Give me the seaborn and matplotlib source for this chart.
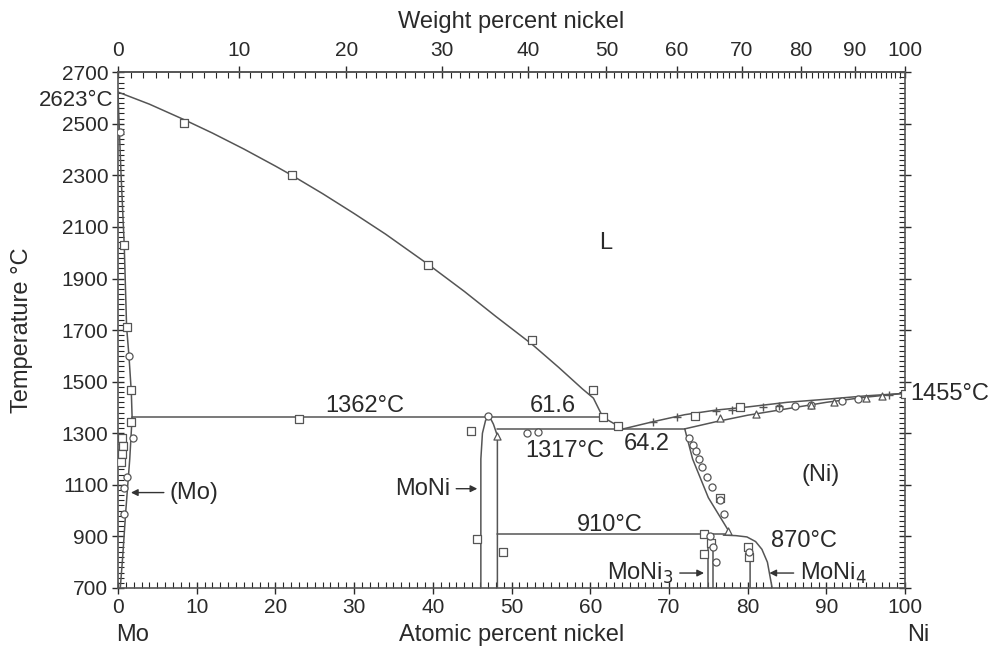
import numpy as np
import pandas as pd
import matplotlib
matplotlib.use("Agg")
import matplotlib.pyplot as plt
import seaborn as sns
from matplotlib.ticker import MultipleLocator, FixedLocator

# phase boundaries (atomic % Ni, temperature C)
liquidus_mo = ([0, 4, 8.4, 12, 16, 20, 22.1, 26, 30, 34, 39.4, 44, 48, 52.6, 56, 59, 60.4,
                61.6, 64.2],
               [2623, 2576, 2516, 2464, 2402, 2336, 2300, 2229, 2152, 2072, 1955, 1850,
                1753, 1645, 1555, 1472, 1436, 1362, 1317])
solidus_mo = ([0, 0.4, 0.8, 1.1, 1.4, 1.7, 1.8], [2623, 2300, 2030, 1712, 1600, 1460, 1362])
solvus_mo = ([1.8, 1.5, 1.0, 0.6, 0.3], [1362, 1200, 1000, 820, 700])
peritectic = ([1.8, 61.6], [1362, 1362])
moni_left = ([46.1, 46.1, 46.3, 46.7, 47.2], [700, 1200, 1300, 1350, 1365])
moni_right = ([47.2, 47.7, 48.2, 48.2], [1365, 1335, 1290, 700])
eutectic = ([48.2, 72.0], [1317, 1317])
liquidus_ni = ([64.2, 68, 72, 76, 80, 85, 90, 95, 100],
               [1317, 1345, 1372, 1390, 1402, 1420, 1432, 1445, 1455])
solidus_ni = ([72, 76, 80, 85, 90, 95, 100], [1317, 1345, 1370, 1395, 1420, 1440, 1455])
solvus_ni = ([72, 73, 75, 77.8], [1317, 1200, 1050, 910])
peritectoid = ([48.2, 77.8], [910, 910])
moni3_left = ([75.0, 75.0], [700, 910])
moni3_right = ([75.6, 75.6], [700, 910])
ni_boundary = ([76.9, 78.5, 79.9, 81.0, 81.8, 82.5, 83.1], [905, 903, 898, 880, 850, 800, 700])
moni4_left = ([80.3, 80.3, 80.6], [700, 850, 872])

curves = [liquidus_mo, solidus_mo, solvus_mo, peritectic, moni_left, moni_right,
          eutectic, liquidus_ni, solidus_ni, solvus_ni, peritectoid, moni3_left,
          moni3_right, ni_boundary, moni4_left]

# experimental points
sq_x = [8.4, 22.1, 39.4, 52.6, 60.4, 61.6, 63.5, 73.3, 79.0, 0.8, 1.1, 1.65, 1.65, 23.0,
        0.5, 0.6, 0.5, 0.4, 44.9, 45.6, 48.9, 74.5, 74.4, 75.3, 76.5, 80.0, 80.2, 100]
sq_y = [2502, 2300, 1952, 1661, 1467, 1362, 1330, 1365, 1400, 2030, 1712, 1467, 1343, 1355,
        1280, 1250, 1220, 1190, 1308, 890, 840, 910, 830, 875, 1050, 860, 820, 1452]
ci_x = [1.9, 1.1, 0.8, 0.8, 0.3, 1.4, 47.0, 52.0, 53.3, 72.5, 73.0, 73.4, 73.8, 74.2,
        74.8, 75.5, 76.5, 77.0, 75.2, 75.6, 76.0, 80.1, 84.0, 86.0, 88.0, 92.0, 94.0]
ci_y = [1282, 1130, 1088, 988, 2470, 1600, 1365, 1300, 1305, 1280, 1255, 1230, 1200, 1170,
        1130, 1090, 1040, 985, 900, 860, 800, 840, 1398, 1405, 1410, 1425, 1432]
tr_x = [48.2, 77.5, 76.5, 81.0, 88.0, 91.0, 95.0, 97.0]
tr_y = [1290, 920, 1360, 1375, 1410, 1420, 1437, 1443]
pl_x = [68.0, 71.0, 76.0, 78.0, 82.0, 84.0, 98.0]
pl_y = [1345, 1362, 1385, 1390, 1400, 1405, 1450]

wt_ticks = [0, 10, 20, 30, 40, 50, 60, 70, 80, 90, 100]
t_ticks = [700, 900, 1100, 1300, 1500, 1700, 1900, 2100, 2300, 2500, 2700]


def at_to_wt(x):
    x = np.asarray(x, dtype=float)
    return 100 * x * 58.69 / (x * 58.69 + (100 - x) * 95.95)


def wt_to_at(w):
    w = np.asarray(w, dtype=float)
    a = w / 58.69
    return 100 * a / (a + (100 - w) / 95.95)


sns.set_theme(style="ticks")
plt.rcParams['font.family'] = ['Liberation Sans', 'DejaVu Sans']
ink = "#2a2a2a"
fs = 17
tfs = 15

fig = plt.figure(figsize=(10.08, 6.48), dpi=100)
ax = fig.add_axes([0.117, 0.0926, 0.781, 0.796])

for cx, cy in curves:
    df = pd.DataFrame({"at": cx, "T": cy})
    sns.lineplot(data=df, x="at", y="T", sort=False, estimator=None, color="#555555",
                 lw=1.1, ax=ax)

mk = dict(facecolor="white", edgecolor="#555555", linewidth=0.9, ax=ax, zorder=3)
sns.scatterplot(x=sq_x, y=sq_y, marker="s", s=28, **mk)
sns.scatterplot(x=ci_x, y=ci_y, marker="o", s=26, **mk)
sns.scatterplot(x=tr_x, y=tr_y, marker="^", s=26, **mk)
sns.scatterplot(x=pl_x, y=pl_y, marker="+", s=30, color="#555555", linewidth=1, ax=ax,
                zorder=3)

ax.set_xlim(0, 100)
ax.set_ylim(700, 2700)
ax.set_yticks(t_ticks)
ax.set_xticks(range(0, 101, 10))
ax.xaxis.set_minor_locator(MultipleLocator(1))
ax.yaxis.set_minor_locator(MultipleLocator(20))
ax.tick_params(axis="both", which="major", direction="inout", length=8, width=1,
               labelsize=tfs, colors=ink, right=True, top=False, pad=3)
ax.tick_params(axis="both", which="minor", direction="in", length=4, width=0.8,
               right=True, top=False)
for s in ax.spines.values():
    s.set_color("#555555")
    s.set_linewidth(1.2)

ax.set_xlabel("Atomic percent nickel", fontsize=fs, color=ink)
ax.xaxis.set_label_coords(0.5, -0.091)
ax.xaxis.label.set_va("center")
ax.set_ylabel("Temperature °C", fontsize=fs, color=ink)
ax.yaxis.set_label_coords(-0.122, 0.5)
ax.yaxis.label.set_va("center")

top = ax.secondary_xaxis("top", functions=(at_to_wt, wt_to_at))
top.set_xticks(wt_ticks)
top.xaxis.set_minor_locator(FixedLocator(list(range(0, 101))))
top.tick_params(which="major", direction="inout", length=8, width=1, labelsize=tfs,
                colors=ink, pad=5)
top.tick_params(which="minor", direction="in", length=4, width=0.8)
top.spines["top"].set_color("#555555")
top.spines["top"].set_linewidth(1.2)
ax.text(0.5, 1.097, "Weight percent nickel", fontsize=fs, color=ink, ha="center",
        va="center", transform=ax.transAxes)

ax.text(61.9, 2037, "L", fontsize=fs, color=ink, ha="center", va="center")
ax.text(31.4, 1405, "1362°C", fontsize=fs, color=ink, ha="center", va="center")
ax.text(55.3, 1405, "61.6", fontsize=fs, color=ink, ha="center", va="center")
ax.text(56.8, 1232, "1317°C", fontsize=fs, color=ink, ha="center", va="center")
ax.text(67.2, 1258, "64.2", fontsize=fs, color=ink, ha="center", va="center")
ax.text(89.2, 1138, "(Ni)", fontsize=fs, color=ink, ha="center", va="center")
ax.text(62.5, 946, "910°C", fontsize=fs, color=ink, ha="center", va="center")
ax.text(87.2, 882, "870°C", fontsize=fs, color=ink, ha="center", va="center")
ax.text(-0.6, 2592, "2623°C", fontsize=16, color=ink, ha="right", va="center")
ax.text(100.6, 1452, "1455°C", fontsize=fs, color=ink, ha="left", va="center",
        clip_on=False)
ax.text(1.9, -0.091, "Mo", fontsize=fs, color=ink, ha="center", va="center",
        transform=ax.get_xaxis_transform())
ax.text(101.6, -0.091, "Ni", fontsize=fs, color=ink, ha="center", va="center",
        transform=ax.get_xaxis_transform())

arrow = dict(arrowstyle="-|>", color="#333333", lw=1, mutation_scale=10)
ax.annotate("(Mo)", xy=(1.3, 1070), xytext=(6.6, 1070), fontsize=fs, color=ink,
            va="center", ha="left", arrowprops=arrow)
ax.annotate("MoNi", xy=(46.0, 1085), xytext=(42.2, 1085), fontsize=fs, color=ink,
            va="center", ha="right", arrowprops=arrow)
ax.annotate("MoNi$_3$", xy=(74.8, 758), xytext=(70.6, 758), fontsize=fs, color=ink,
            va="center", ha="right", arrowprops=arrow)
ax.annotate("MoNi$_4$", xy=(82.4, 758), xytext=(86.6, 758), fontsize=fs, color=ink,
            va="center", ha="left", arrowprops=arrow)

fig.savefig("out.png", dpi=100)
